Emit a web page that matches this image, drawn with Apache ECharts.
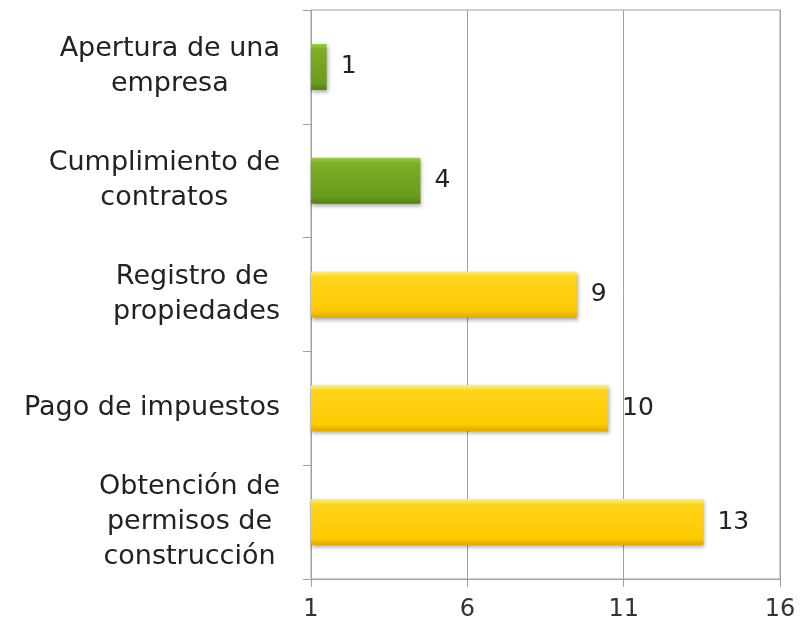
<!DOCTYPE html>
<html>
<head>
<meta charset="utf-8">
<script src="https://cdn.jsdelivr.net/npm/echarts@6/dist/echarts.min.js"></script>
<style>html,body{margin:0;padding:0;background:#fff}#c{width:800px;height:622px}</style>
</head>
<body>
<div id="c"></div>
<script>
const categories = ["Apertura de una\nempresa", "Cumplimiento de\ncontratos", "Registro de \npropiedades", "Pago de impuestos", "Obtención de\npermisos de\nconstrucción"];
const barLengths = [1.5, 4.5, 9.5, 10.5, 13.55];
const rankLabels = ["1", "4", "9", "10", "13"];
const barGroups = ["green", "green", "yellow", "yellow", "yellow"];
const xTicks = [1, 6, 11, 16];

const FONT = 'DejaVu Sans';
const fills = {
  green: new echarts.graphic.LinearGradient(0, 0, 0, 1, [
    {offset: 0, color: '#9bcf45'}, {offset: 0.12, color: '#7cae26'},
    {offset: 0.85, color: '#6a9c1c'}, {offset: 1, color: '#527e12'}]),
  yellow: new echarts.graphic.LinearGradient(0, 0, 0, 1, [
    {offset: 0, color: '#ffee77'}, {offset: 0.12, color: '#ffd41c'},
    {offset: 0.85, color: '#ffc900'}, {offset: 1, color: '#dfa800'}])
};

const chart = echarts.init(document.getElementById('c'), null, {renderer: 'canvas'});
chart.setOption({
  animation: false,
  grid: {left: 311, right: 20, top: 10, bottom: 43, show: true, borderColor: '#a0a0a0', borderWidth: 1},
  xAxis: {
    type: 'value', min: xTicks[0], max: xTicks[xTicks.length - 1], interval: xTicks[1] - xTicks[0],
    axisLine: {show: true, lineStyle: {color: '#a0a0a0'}},
    axisTick: {show: true, length: 8, lineStyle: {color: '#a0a0a0'}},
    splitLine: {show: true, lineStyle: {color: '#a0a0a0'}},
    axisLabel: {fontFamily: FONT, fontSize: 24, color: '#333', margin: 19}
  },
  yAxis: {
    type: 'category', inverse: true, data: categories,
    axisLine: {show: true, lineStyle: {color: '#a0a0a0'}},
    axisTick: {show: true, length: 8, lineStyle: {color: '#a0a0a0'}},
    axisLabel: {
      fontFamily: FONT, fontSize: 27, color: '#222', margin: 31, align: 'right', lineHeight: 35,
      formatter: v => v.split('\n').map(l => '{c|' + l + '}').join('\n'),
      rich: {c: {align: 'center', fontFamily: FONT, fontSize: 27, color: '#222', lineHeight: 35}}
    },
  },
  series: [{
    type: 'bar', barWidth: 46,
    data: barLengths.map((v, i) => ({value: v, itemStyle: {color: fills[barGroups[i]]}})),
    itemStyle: {shadowColor: 'rgba(0,0,0,0.35)', shadowBlur: 4, shadowOffsetX: 1, shadowOffsetY: 2},
    label: {show: true, position: 'right', distance: 14, fontFamily: FONT, fontSize: 25, color: '#222',
      formatter: p => rankLabels[p.dataIndex]}
  }]
});
</script>
</body>
</html>
